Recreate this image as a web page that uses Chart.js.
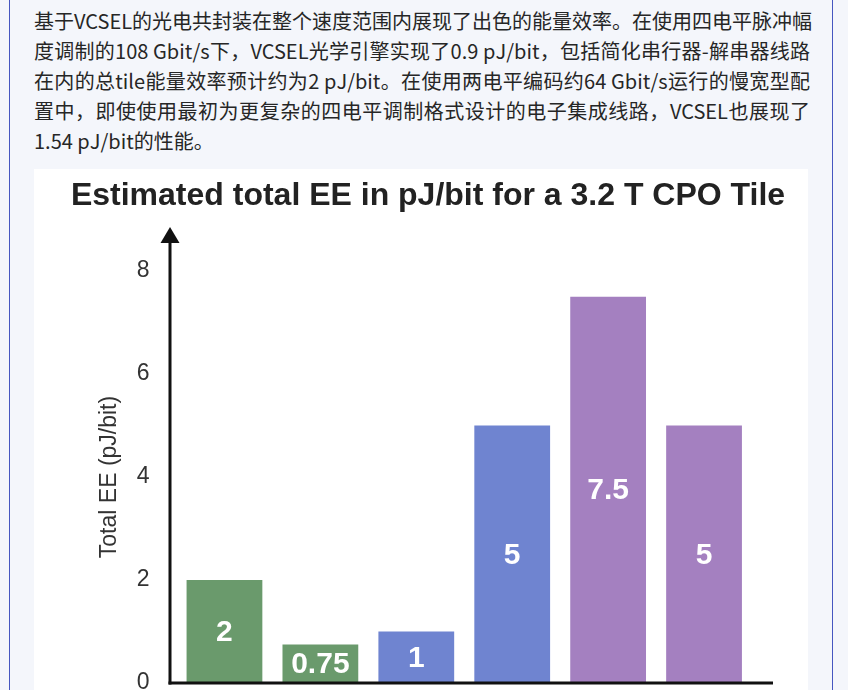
<!DOCTYPE html>
<html>
<head>
<meta charset="utf-8">
<script src="https://cdn.jsdelivr.net/npm/chart.js@4"></script>
<style>
html,body{margin:0;padding:0;width:848px;height:690px;overflow:hidden;background:#f4f6fb;}
.frame{position:absolute;left:9px;top:0;width:822px;height:690px;border-left:1px solid #4656c0;border-right:1px solid #4656c0;}
.text{position:absolute;left:34px;top:6px;width:776px;font-family:"Noto Sans CJK SC","Noto Sans",sans-serif;font-size:20px;line-height:30px;color:#262626;}
.text div{white-space:nowrap;text-align:justify;text-align-last:justify;}
.text div.last{text-align-last:left;}
.box{position:absolute;left:34px;top:169px;width:774px;height:560px;background:#fff;}
canvas{display:block;}
</style>
</head>
<body>
<div class="frame"></div>
<div class="text">
<div>基于VCSEL的光电共封装在整个速度范围内展现了出色的能量效率。在使用四电平脉冲幅</div>
<div>度调制的108 Gbit/s下，VCSEL光学引擎实现了0.9 pJ/bit，包括简化串行器-解串器线路</div>
<div>在内的总tile能量效率预计约为2 pJ/bit。在使用两电平编码约64 Gbit/s运行的慢宽型配</div>
<div>置中，即使使用最初为更复杂的四电平调制格式设计的电子集成线路，VCSEL也展现了</div>
<div class="last">1.54 pJ/bit的性能。</div>
</div>
<div class="box"><canvas id="c" width="774" height="560" style="width:774px;height:560px"></canvas></div>
<script>
const categories = ['Bar 1', 'Bar 2', 'Bar 3', 'Bar 4', 'Bar 5', 'Bar 6'];
const values = [2, 0.75, 1, 5, 7.5, 5];
const valueLabels = ['2', '0.75', '1', '5', '7.5', '5'];
const yTicks = [0, 2, 4, 6, 8];
const barColors = ['#6a9a6c', '#6a9a6c', '#6f84d0', '#6f84d0', '#a480c0', '#a480c0'];

const FONT = 'Arial, "Liberation Sans", sans-serif';

const axesPlugin = {
  id: 'axesPlugin',
  afterDatasetsDraw(chart) {
    const ctx = chart.ctx;
    const a = chart.chartArea;
    const x0 = a.left - 6.5;
    const yb = a.bottom;
    ctx.save();
    ctx.strokeStyle = '#111';
    ctx.fillStyle = '#111';
    ctx.lineWidth = 3;
    ctx.beginPath();
    ctx.moveTo(x0, yb + 1.5);
    ctx.lineTo(x0, a.top - 30);
    ctx.stroke();
    ctx.beginPath();
    ctx.moveTo(x0 - 1.5, yb);
    ctx.lineTo(a.right + 21, yb);
    ctx.stroke();
    ctx.beginPath();
    ctx.moveTo(x0, a.top - 44);
    ctx.lineTo(x0 - 9.5, a.top - 28);
    ctx.lineTo(x0 + 9.5, a.top - 28);
    ctx.closePath();
    ctx.fill();
    ctx.restore();
  }
};

const labelPlugin = {
  id: 'labelPlugin',
  afterDatasetsDraw(chart) {
    const ctx = chart.ctx;
    const meta = chart.getDatasetMeta(0);
    ctx.save();
    ctx.fillStyle = '#ffffff';
    ctx.font = 'bold 30px ' + FONT;
    ctx.textAlign = 'center';
    ctx.textBaseline = 'middle';
    meta.data.forEach((bar, i) => {
      const p = bar.getProps(['x', 'y', 'base'], true);
      ctx.fillText(valueLabels[i], p.x, (p.y + p.base) / 2 + 1);
    });
    ctx.restore();
  }
};

new Chart(document.getElementById('c'), {
  type: 'bar',
  data: {
    labels: categories,
    datasets: [{
      data: values,
      backgroundColor: barColors,
      borderWidth: 0,
      categoryPercentage: 1,
      barPercentage: 0.79
    }]
  },
  options: {
    responsive: false,
    animation: false,
    events: [],
    layout: { padding: { left: 30, right: 16, top: 0, bottom: 46 } },
    plugins: {
      legend: { display: false },
      tooltip: { enabled: false },
      title: {
        display: true,
        text: 'Estimated total EE in pJ/bit for a 3.2 T CPO Tile',
        color: '#222',
        font: { family: FONT, size: 32, weight: 'bold', lineHeight: 1.2 },
        padding: { top: 8, bottom: 55.6 }
      }
    },
    scales: {
      x: { display: false },
      y: {
        min: 0,
        max: 8,
        afterFit(scale) { scale.width = 112.5; },
        afterBuildTicks(scale) { scale.ticks = yTicks.map(v => ({ value: v })); },
        grid: { display: false, drawTicks: false },
        border: { display: false },
        ticks: { color: '#333', padding: 27, font: { family: FONT, size: 23 } },
        title: {
          display: true,
          text: 'Total EE (pJ/bit)',
          color: '#333',
          font: { family: FONT, size: 23, lineHeight: 1.2 },
          padding: { top: 32, bottom: 0 }
        }
      },
      ySpace: {
        position: 'right',
        display: true,
        afterFit(scale) { scale.width = 40; },
        grid: { display: false, drawTicks: false },
        border: { display: false },
        ticks: { display: false }
      }
    }
  },
  plugins: [axesPlugin, labelPlugin]
});
</script>
</body>
</html>
